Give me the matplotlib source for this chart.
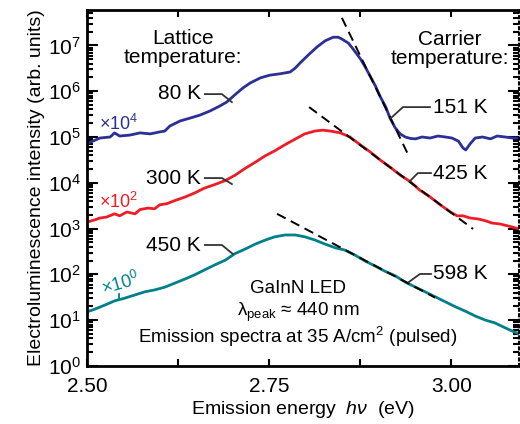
import numpy as np
import matplotlib
matplotlib.use("Agg")
import matplotlib.pyplot as plt
from matplotlib.ticker import LogLocator, FixedLocator, MultipleLocator, LogFormatterMathtext

plt.rcParams["font.family"] = ["Liberation Sans", "DejaVu Sans"]
plt.rcParams["mathtext.fontset"] = "custom"
plt.rcParams["mathtext.rm"] = "Liberation Sans"
plt.rcParams["mathtext.it"] = "Liberation Sans:italic"

# --- 80 K spectrum (scaled x1e4) ---
e_80 = [2.500, 2.508, 2.518, 2.532, 2.538, 2.545, 2.559, 2.573, 2.587, 2.600, 2.607,
        2.614, 2.628, 2.641, 2.655, 2.669, 2.683, 2.692, 2.703, 2.714, 2.724, 2.738,
        2.751, 2.765, 2.779, 2.786, 2.793, 2.804, 2.816, 2.827, 2.838, 2.845, 2.850,
        2.859, 2.865, 2.875, 2.882, 2.889, 2.896, 2.903, 2.910, 2.916, 2.923, 2.930,
        2.937, 2.944, 2.951, 2.960, 2.971, 2.982, 2.992, 3.001, 3.010, 3.016, 3.020,
        3.026, 3.033, 3.043, 3.054, 3.063, 3.074, 3.084, 3.093]
i_80 = [7.1e4, 8.1e4, 9.5e4, 1.0e5, 1.23e5, 1.05e5, 1.1e5, 1.23e5, 1.17e5, 1.29e5, 1.35e5,
        1.74e5, 2.24e5, 2.57e5, 3.0e5, 3.7e5, 4.8e5, 5.8e5, 8.3e5, 1.17e6, 1.51e6, 1.95e6,
        2.24e6, 2.4e6, 2.63e6, 3.2e6, 4.2e6, 6.2e6, 9.3e6, 1.26e7, 1.51e7, 1.51e7, 1.38e7,
        1.12e7, 8.5e6, 5.2e6, 3.4e6, 2.1e6, 1.3e6, 7.4e5, 4.6e5, 2.6e5, 1.6e5, 1.17e5,
        1.0e5, 9.3e4, 9.1e4, 1.0e5, 9.5e4, 1.05e5, 1.0e5, 9.5e4, 8.1e4, 5.8e4, 5.2e4,
        7.1e4, 9.5e4, 1.0e5, 9.1e4, 1.05e5, 1.0e5, 9.5e4, 9.5e4]

# --- 300 K spectrum (scaled x1e2) ---
e_300 = [2.500, 2.511, 2.518, 2.527, 2.538, 2.545, 2.555, 2.566, 2.573, 2.584, 2.593,
         2.600, 2.610, 2.621, 2.635, 2.648, 2.661, 2.676, 2.690, 2.703, 2.717, 2.731,
         2.745, 2.758, 2.772, 2.786, 2.799, 2.813, 2.824, 2.834, 2.848, 2.861, 2.875,
         2.889, 2.902, 2.916, 2.930, 2.944, 2.957, 2.971, 2.985, 2.999, 3.008, 3.016,
         3.026, 3.037, 3.047, 3.056, 3.067, 3.077, 3.085, 3.093]
i_300 = [1.38e3, 1.55e3, 1.7e3, 1.78e3, 2.1e3, 1.9e3, 2.3e3, 2.1e3, 2.6e3, 2.8e3, 2.7e3,
         3.3e3, 3.5e3, 4.1e3, 4.9e3, 6.0e3, 7.6e3, 9.2e3, 1.12e4, 1.45e4, 2.05e4, 2.8e4,
         3.9e4, 5.0e4, 6.8e4, 9.0e4, 1.17e5, 1.35e5, 1.41e5, 1.35e5, 1.23e5, 1.0e5, 6.8e4,
         4.7e4, 3.2e4, 2.2e4, 1.48e4, 1.05e4, 6.9e3, 4.9e3, 3.3e3, 2.3e3, 1.9e3, 1.9e3,
         1.7e3, 1.62e3, 1.48e3, 1.32e3, 1.26e3, 1.15e3, 1.07e3, 9.8e2]

# --- 450 K spectrum (x1) ---
e_450 = [2.500, 2.511, 2.525, 2.538, 2.552, 2.566, 2.580, 2.593, 2.607, 2.621, 2.635,
         2.648, 2.662, 2.676, 2.690, 2.703, 2.717, 2.731, 2.745, 2.758, 2.772, 2.786,
         2.799, 2.813, 2.827, 2.841, 2.854, 2.868, 2.882, 2.896, 2.909, 2.923, 2.937,
         2.951, 2.964, 2.978, 2.992, 3.006, 3.019, 3.033, 3.047, 3.060, 3.074, 3.084, 3.093]
i_450 = [15.1, 17.4, 21.4, 26.3, 30.2, 35.5, 41.7, 45.7, 52.5, 64.6, 79.4,
         97.7, 126, 162, 204, 282, 355, 457, 562, 661, 724, 724,
         661, 562, 457, 380, 339, 263, 195, 151, 117, 93.3, 67.6,
         52.5, 41.7, 32.4, 25.1, 19.5, 15.8, 12.3, 10.0, 8.7, 6.8, 5.75, 5.0]

# --- high-energy slope fits: (E_start, E_end), (I_start, I_end) ---
fit_151_e = [2.850, 2.941]
fit_151_i = [4.0e7, 4.1e4]
fit_425_e = [2.805, 3.030]
fit_425_i = [4.5e5, 9.8e2]
fit_598_e = [2.761, 2.978]
fit_598_i = [2.1e3, 31]

c_blue = "#2b2f96"
c_red = "#ee1c25"
c_teal = "#00808a"

fig = plt.figure(figsize=(5.2, 4.24), dpi=100)
ax = fig.add_axes([0.167, 0.137, 0.831, 0.839])

ax.plot(e_80, i_80, color=c_blue, lw=2)
ax.plot(e_300, i_300, color=c_red, lw=2)
ax.plot(e_450, i_450, color=c_teal, lw=2)
for fe, fi in [(fit_151_e, fit_151_i), (fit_425_e, fit_425_i), (fit_598_e, fit_598_i)]:
    ax.plot(fe, fi, color="black", lw=1.4, ls=(0, (5, 3)))

ax.set_yscale("log")
ax.set_xlim(2.50, 3.093)
ax.set_ylim(1, 10 ** 7.77)

ax.xaxis.set_major_locator(FixedLocator([2.50, 2.75, 3.00]))
ax.xaxis.set_minor_locator(MultipleLocator(0.125))
ax.set_xticklabels(["2.50", "2.75", "3.00"])
ax.yaxis.set_major_locator(LogLocator(base=10, numticks=20))
ax.yaxis.set_minor_locator(LogLocator(base=10, subs=np.arange(2, 10), numticks=20))
ax.yaxis.set_major_formatter(LogFormatterMathtext())

ax.tick_params(axis="both", which="both", direction="in", top=True, right=True,
               labelsize=15, width=1.5)
ax.tick_params(axis="x", which="both", length=5, pad=8)
ax.tick_params(axis="y", which="major", length=8, pad=4)
ax.tick_params(axis="y", which="minor", length=4)
for s in ["left", "bottom", "top"]:
    ax.spines[s].set_linewidth(2)
ax.spines["right"].set_linewidth(1.5)
ax.spines["right"].set_linestyle(":")

ax.set_xlabel(r"Emission energy  $h\nu$  (eV)", fontsize=14, labelpad=2)
ax.set_ylabel("Electroluminescence intensity (arb. units)", fontsize=14, labelpad=2)


def px(x, y):
    return ((x - 87) / 432, (366 - y) / 356)


tr = ax.transAxes
ax.text(*px(183, 48), "Lattice\ntemperature:", transform=tr, ha="center", va="center",
        fontsize=15, linespacing=1.0)
ax.text(*px(450, 49), "Carrier\ntemperature:", transform=tr, ha="center", va="center",
        fontsize=15, linespacing=1.0)

# lattice temperature labels with leader lines
for lbl, ty, pts in [("80 K", 93, [(205, 94), (222, 94), (232, 102)]),
                     ("300 K", 178, [(205, 178), (222, 178), (232, 184)]),
                     ("450 K", 245, [(205, 245), (222, 245), (233, 254)])]:
    ax.text(*px(201, ty), lbl, transform=tr, ha="right", va="center", fontsize=15)
    xs, ys = zip(*[px(a, b) for a, b in pts])
    ax.plot(xs, ys, color="#333333", lw=1.3, transform=tr)

# carrier temperature labels with leader lines
for lbl, ty, pts in [("151 K", 107, [(430, 107), (403, 107), (391, 118)]),
                     ("425 K", 173, [(431, 173), (418, 173), (410, 181)]),
                     ("598 K", 274, [(431, 274), (420, 274), (409, 282)])]:
    ax.text(*px(433, ty), lbl, transform=tr, ha="left", va="center", fontsize=15)
    xs, ys = zip(*[px(a, b) for a, b in pts])
    ax.plot(xs, ys, color="#333333", lw=1.3, transform=tr)

ax.text(*px(99, 124), r"$\times10^4$", transform=tr, ha="left", va="center",
        fontsize=13, color=c_blue)
ax.text(*px(99, 202), r"$\times10^2$", transform=tr, ha="left", va="center",
        fontsize=13, color=c_red)
ax.text(*px(99, 284), r"$\times10^0$", transform=tr, ha="left", va="center",
        fontsize=13, color=c_teal, rotation=16)
xs, ys = zip(*[px(119, 294), px(119, 299)])
ax.plot(xs, ys, color=c_teal, lw=1.3, transform=tr)

ax.text(*px(298, 289), "GaInN LED", transform=tr, ha="center", va="center", fontsize=13.5)
ax.text(*px(298, 312), r"λ$_{\mathrm{peak}}$ ≈ 440 nm", transform=tr, ha="center",
        va="center", fontsize=13.5)
ax.text(*px(298, 337), r"Emission spectra at 35 A/cm$^2$ (pulsed)", transform=tr,
        ha="center", va="center", fontsize=13.5)

fig.savefig("out.png", dpi=100)
